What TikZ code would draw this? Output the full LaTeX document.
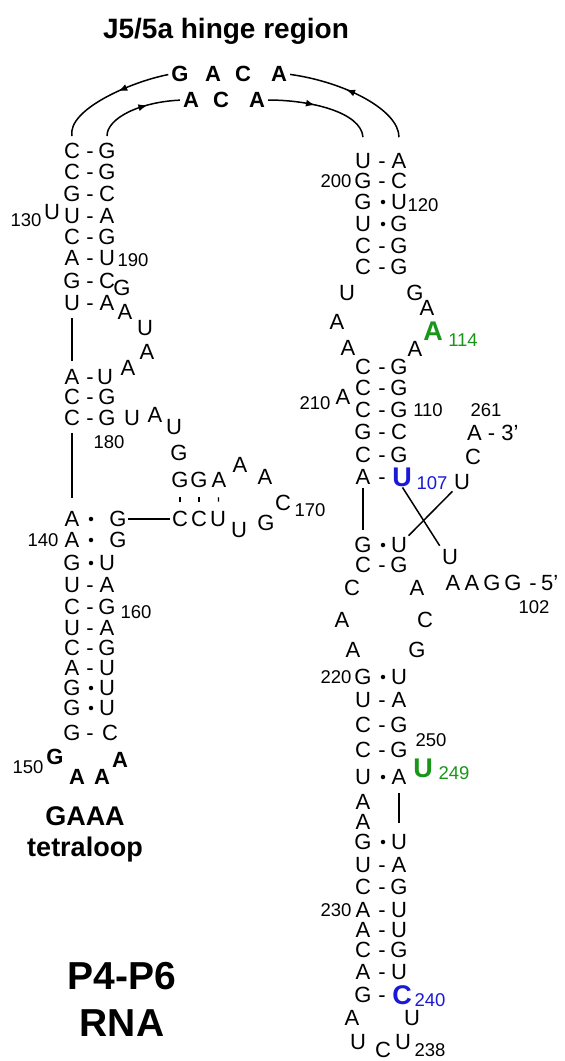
\documentclass[tikz,border=0pt]{standalone}
\usepackage{fontspec}
\setmainfont{Liberation Sans}
\usetikzlibrary{arrows.meta,decorations.markings,calc}
\definecolor{hlgreen}{RGB}{25,150,25}
\definecolor{hlblue}{RGB}{25,25,215}
\begin{document}
\begin{tikzpicture}[x=1pt,y=-1pt,
  nt/.style={inner sep=0pt, font=\fontsize{22}{22}\selectfont},
  bnt/.style={inner sep=0pt, font=\fontsize{22}{22}\selectfont\bfseries},
  hl/.style={inner sep=0pt, font=\fontsize{27}{27}\selectfont\bfseries},
  num/.style={inner sep=0pt, font=\fontsize{18.5}{18.5}\selectfont},
  pdash/.style={inner sep=0pt, font=\fontsize{22}{22}\selectfont, anchor=base, yshift=-7.9pt},
  pdot/.style={circle, fill, inner sep=0pt, minimum size=4.5pt},
  ln/.style={line width=1.5pt},
  amid/.style={postaction={decorate}, decoration={markings, mark=at position #1 with {\arrow{Latex[length=9pt,width=7pt]}}}},
  lbl/.style={inner sep=0pt, font=\fontsize{27}{27}\selectfont\bfseries, anchor=base},
  big/.style={inner sep=0pt, font=\fontsize{39}{39}\selectfont\bfseries, anchor=base},
]
\fill[white] (0,0) rectangle (565,1061);
\useasboundingbox (0,0) rectangle (565,1061);

% title
\node[lbl, font=\fontsize{28}{28}\selectfont\bfseries] (title) at (226,38) {J5/5a hinge region};

% hinge strands
\node[bnt] (hG1) at (180,74) {G};
\node[bnt] (hA2) at (213,74) {A};
\node[bnt] (hC3) at (243,74) {C};
\node[bnt] (hA4) at (279,74) {A};
\node[bnt] (hi1) at (191,100) {A};
\node[bnt] (hi2) at (221,100) {C};
\node[bnt] (hi3) at (257,100) {A};

% left helix
\foreach \i/\y/\a/\s/\b/\xb in {1/151/C/-/G/107, 2/172/C/-/G/107, 3/194/G/-/C/107,
  4/216/U/-/A/107, 5/237/C/-/G/107, 6/258/A/-/U/107, 7/281/G/-/C/107, 8/303/U/-/A/107,
  9/377/A/-/U/105, 10/397/C/-/G/107, 11/418/C/-/G/107, 12/519/A/o/G/118, 13/540/A/o/G/118,
  14/563/G/o/U/107, 15/585/U/-/A/107, 16/607/C/-/G/107, 17/628/U/-/A/107, 18/648/C/-/G/107,
  19/668/A/-/U/107, 20/688/G/o/U/107, 21/708/G/o/U/107, 22/733/G/-/C/110}{
  \node[nt] (La\i) at (72,\y) {\a};
  \if\s o\node[pdot] (Ls\i) at (91,\y) {};\else\node[pdash] (Ls\i) at (90,\y) {-};\fi
  \node[nt] (Lb\i) at (\xb,\y) {\b};
}

% right helix
\foreach \i/\y/\a/\s/\b in {1/161/U/-/A, 2/181/G/-/C, 3/202/G/o/U, 4/224/U/o/G, 5/246/C/-/G,
  6/267/C/-/G, 7/367/C/-/G, 8/388/C/-/G, 9/410/C/-/G, 10/432/G/-/C, 11/455/C/-/G,
  13/545/G/o/U, 14/565/C/-/G, 15/677/G/o/U, 16/700/U/-/A, 17/725/C/-/G, 18/750/C/-/G,
  19/777/U/o/A, 20/842/G/o/U, 21/865/U/-/A, 22/887/C/-/G, 23/910/A/-/U, 24/930/A/-/U,
  25/950/C/-/G, 26/972/A/-/U}{
  \node[nt] (Ra\i) at (363,\y) {\a};
  \if\s o\node[pdot] (Rs\i) at (383,\y) {};\else\node[pdash] (Rs\i) at (382,\y) {-};\fi
  \node[nt] (Rb\i) at (399,\y) {\b};
}
\node[nt] (Ra12) at (363,477) {A};
\node[pdash] (Rs12) at (382,477) {-};
\node[hl, text=hlblue] (Rb12) at (402,477) {U};
\node[num, text=hlblue] (n107) at (432,483) {107};
\node[nt] (Ra27) at (363,995) {G};
\node[pdash] (Rs27) at (382,995) {-};
\node[hl, text=hlblue] (Rb27) at (402,995) {C};
\node[num, text=hlblue] (n240) at (430,1000) {240};

% hinge connectors
\draw[ln, amid=0.45, shorten <=3pt] (hG1.west) .. controls (130,82) and (67,110) .. ($(La1.north)+(0,-7)$);
\draw[ln, amid=0.6, shorten >=3pt] ($(Lb1.north)+(0,-7)$) .. controls (107,118) and (140,102) .. (hi1.west);
\draw[ln, amid=0.45, shorten <=3pt] (hi3.east) .. controls (310,100) and (361,112) .. ($(Ra1.north)+(0,-16)$);
\draw[ln, amid=0.55, shorten >=3pt] ($(Rb1.north)+(0,-16)$) .. controls (399,110) and (345,82) .. (hA4.east);

% left side extras
\node[num] (n130) at (26,220) {130};
\node[nt] (bU) at (52,212) {U};
\node[num] (n190) at (133,260) {190};
\node[nt] (j1) at (122,288) {G};
\node[nt] (j2) at (125,312) {A};
\node[nt] (j3) at (145,328) {U};
\node[nt] (j4) at (147,352) {A};
\node[nt] (j5) at (128,368) {A};
\node[nt] (k1) at (132,418) {U};
\node[nt] (k2) at (155,415) {A};
\node[nt] (k3) at (174,427) {U};
\node[num] (n180) at (109,442) {180};
\node[nt] (k4) at (179,453) {G};
\node[nt] (g1) at (180,480) {G};
\node[nt] (g2) at (199,480) {G};
\node[nt] (g3) at (219,480) {A};
\node[nt] (t1) at (240,465) {A};
\node[nt] (t2) at (265,477) {A};
\node[nt] (t3) at (283,503) {C};
\node[num] (n170) at (310,510) {170};
\node[nt] (c1) at (180,519) {C};
\node[nt] (c2) at (199,519) {C};
\node[nt] (c3) at (218,519) {U};
\node[nt] (t4) at (239,530) {U};
\node[nt] (t5) at (266,523) {G};
\node[num] (n140) at (43,540) {140};
\node[num] (n160) at (136,612) {160};
\node[num] (n150) at (28,767) {150};
\node[bnt] (tG) at (55,757) {G};
\node[bnt] (tA1) at (77,777) {A};
\node[bnt] (tA2) at (102,777) {A};
\node[bnt] (tA3) at (120,760) {A};
\node[lbl] (gaaa) at (85,825) {GAAA};
\node[lbl] (tetra) at (85,856) {tetraloop};
\node[big] (p4p6) at (122,989) {P4-P6};
\node[big] (rna) at (122,1036) {RNA};

\draw[ln, shorten <=7pt, shorten >=8pt] (La8.south) -- (La9.north);
\draw[ln, shorten <=7pt, shorten >=13pt] (La11.south) -- (La12.north);
\draw[ln, shorten <=1pt, shorten >=2pt] (Lb12.east) -- (c1.west);
\foreach \u/\v in {g1/c1, g2/c2, g3/c3}{
  \draw[line width=1.2pt, shorten <=9.5pt, shorten >=9.5pt] (\u.south) -- (\v.north);
}

% right side extras
\node[num] (n200) at (336,181) {200};
\node[num] (n120) at (423,205) {120};
\node[nt] (m1) at (347,293) {U};
\node[nt] (m2) at (415,293) {G};
\node[nt] (m3) at (337,322) {A};
\node[nt] (m4) at (427,308) {A};
\node[hl, text=hlgreen] (A114) at (433,331) {A};
\node[num, text=hlgreen] (n114) at (463,340) {114};
\node[nt] (m5) at (348,348) {A};
\node[nt] (m6) at (415,349) {A};
\node[num] (n210) at (315,403) {210};
\node[nt] (m7) at (343,397) {A};
\node[num] (n110) at (428,410) {110};
\node[num] (n261) at (486,410) {261};
\node[nt, anchor=base west] (e3) at (467,440.9) {A - 3'};
\node[nt] (e3c) at (473,457) {C};
\node[nt] (e3u) at (462,482) {U};
\node[nt] (e5u) at (450,557) {U};
\node[nt] (e5a1) at (453,583) {A};
\node[nt] (e5a2) at (472,583) {A};
\node[nt] (e5g1) at (492,583) {G};
\node[nt] (e5g2) at (513,583) {G};
\node[pdash] (e5d) at (533,583) {-};
\node[nt, anchor=base west] (e5) at (541,590.9) {5'};
\node[num] (n102) at (534,607) {102};
\node[nt] (q1) at (352,588) {C};
\node[nt] (q2) at (417,588) {A};
\node[nt] (q3) at (342,620) {A};
\node[nt] (q4) at (425,620) {C};
\node[nt] (q5) at (353,650) {A};
\node[nt] (q6) at (417,650) {G};
\node[num] (n220) at (336,677) {220};
\node[num] (n250) at (431,740) {250};
\node[hl, text=hlgreen] (U249) at (423,768) {U};
\node[num, text=hlgreen] (n249) at (454,773) {249};
\node[nt] (Rx1) at (363,802) {A};
\node[nt] (Rx2) at (363,822) {A};
\node[num] (n230) at (336,910) {230};
\node[nt] (z1) at (352,1018) {A};
\node[nt] (z2) at (412,1018) {U};
\node[nt] (z3) at (358,1042) {U};
\node[nt] (z4) at (383,1050) {C};
\node[nt] (z5) at (403,1042) {U};
\node[num] (n238) at (430,1050) {238};

\draw[ln, shorten <=3pt, shorten >=7pt] (Ra12.south) -- (Ra13.north);
\draw[ln, shorten <=1pt, shorten >=4pt] (Rb12.south) -- (e5u.north west);
\draw[ln, shorten <=2pt, shorten >=2pt] (e3u.south west) -- (Rb13.north east);
\draw[ln, shorten <=8pt, shorten >=11pt] (Rb19.south) -- (Rb20.north);
\end{tikzpicture}
\end{document}
